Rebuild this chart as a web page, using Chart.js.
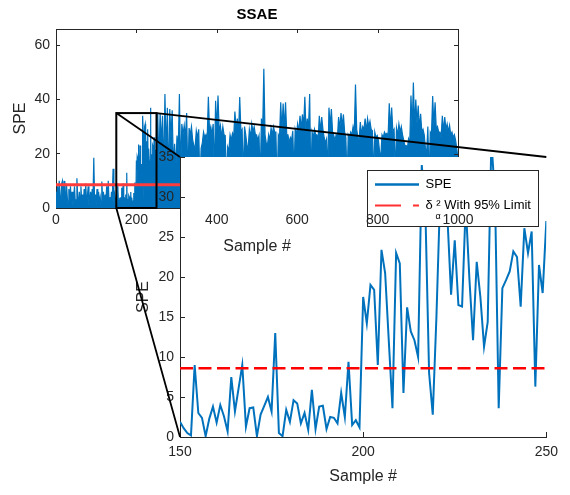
<!DOCTYPE html>
<html lang="en">
<head>
<meta charset="UTF-8">
<title>SSAE</title>
<script src="https://cdn.jsdelivr.net/npm/chart.js"></script>
<style>
  body { margin: 0; background: #fff; }
  #wrap { position: relative; width: 570px; height: 495px; }
  #wrap canvas { position: absolute; left: 0; top: 0; }
</style>
</head>
<body>
<div id="wrap">
  <canvas id="mainChart" width="570" height="495"></canvas>
  <canvas id="zoomChart" width="570" height="495"></canvas>
  <canvas id="overlay" width="570" height="495"></canvas>
</div>
<script>
// values
// samples 0, 2, ..., 148
const earlySPE = [6, 3, 8, 2, 10, 4, 1, 9, 10, 3, 10, 5, 2, 9, 4, 1, 7, 3, 8, 2,
  6, 1, 4, 8, 2, 3, 11, 4, 1, 6, 3, 8, 2, 5, 1, 7, 3, 9, 2, 4,
  8, 1, 3, 6, 2, 7, 3, 18.5, 2, 5, 1, 7, 3, 6, 2, 4, 1, 9.8, 3, 6,
  1, 5, 2, 8, 3, 10, 2, 4, 1, 6, 3, 14.5, 2, 5, 3];
// samples 150 ... 250 (the zoomed part)
const zoomSPE = [1.9, 1.1, 0.5, 0.2, 9.0, 3.0, 2.4, 0.1, 2.3, 3.8,
  1.8, 4.0, 2.6, 0.7, 7.5, 3.2, 6.1, 9.0, 1.3, 3.6,
  3.7, 0.1, 2.8, 3.9, 5.0, 3.2, 13.0, 0.5, 0.1, 3.4,
  1.9, 4.6, 4.2, 1.7, 3.0, 0.9, 5.9, 1.0, 3.8, 3.9,
  1.0, 2.5, 2.4, 1.7, 5.5, 2.5, 9.4, 1.5, 2.1, 1.2,
  17.5, 14.2, 19.0, 18.4, 9.0, 23.4, 20.5, 12.0, 3.6, 23.0,
  21.7, 5.5, 16.2, 13.2, 12.1, 10.0, 34.0, 28.0, 8.0, 2.8,
  15.0, 30.0, 31.0, 27.5, 17.8, 24.6, 16.5, 16.3, 29.0, 19.8,
  12.1, 21.9, 17.5, 11.3, 14.4, 37.0, 30.0, 3.6, 18.6, 19.6,
  20.7, 23.2, 22.5, 16.3, 26.1, 23.0, 25.7, 6.3, 21.5, 18.0, 27.0];
// samples 253, 259, ..., 997
const lateUpper = [35, 35, 34, 42, 37, 36.5, 36, 23.7, 26.7, 42,
  31, 30.5, 35, 29.5, 30, 23, 28.5, 29, 22, 28,
  27, 41, 30, 31, 39.5, 41.5, 30.4, 30, 26.7, 22.5,
  27, 27.5, 35.6, 33, 40.9, 29, 30, 23, 29, 31,
  30, 27, 26.7, 33, 51.3, 24, 27, 29.5, 30, 28,
  27, 39, 38.5, 39, 27, 26, 28.5, 29, 31, 34,
  34.5, 41, 33, 42, 28, 29, 27, 34, 33.5, 26,
  25.5, 37, 36.5, 26.7, 27, 33.5, 35, 34.5, 26, 27,
  28, 30, 45.5, 26, 31.7, 30, 33, 33, 32, 28.5,
  28, 26.7, 20.6, 27, 28, 27.5, 38.6, 37, 29, 29.5,
  31, 30, 25, 23, 25.5, 41.5, 46.3, 40, 37.8, 34.7,
  29, 22, 30, 28, 41.3, 39, 30, 28, 34, 33.5,
  31, 30.5, 28, 27, 21.8];
// samples 256, 262, ..., 1000
const lateLower = [16, 24, 12, 20, 9, 26, 15, 14, 21, 13,
  27, 26, 10, 27, 25, 22, 26, 8, 24, 26,
  25, 28, 27, 12, 29, 28, 26, 27, 9, 21,
  25, 26, 29, 27, 28, 11, 27, 22, 26, 28,
  27, 25, 10, 28, 27, 23, 25, 27, 28, 7,
  26, 28, 29, 27, 24, 25, 12, 27, 28, 29,
  30, 28, 29, 9, 26, 27, 25, 28, 29, 24,
  13, 30, 28, 25, 26, 29, 30, 28, 10, 26,
  27, 28, 29, 25, 27, 29, 28, 30, 29, 11,
  26, 25, 19, 26, 27, 26, 29, 28, 12, 27,
  28, 27, 23, 22, 24, 29, 30, 31, 29, 28,
  27, 20, 10, 27, 30, 29, 28, 26, 28, 29,
  28, 27, 26, 25, 18];
const speLimit = 8.6;

const zoomX = [150, 250];
const zoomY = [0, 35];
const mainXTicks = [0, 200, 400, 600, 800, 1000];
const mainYTicks = [0, 20, 40, 60];
const zoomXTicks = [150, 200, 250];
const zoomYTicks = [0, 5, 10, 15, 20, 25, 30, 35];

const BLUE = '#0072bd';
const AXIS = '#262626';
const HIDE = 'rgba(0,0,0,0)';
const LEGEND_BOX = { left: 367, top: 170, width: 171, height: 56 };

Chart.defaults.font.family = "'Liberation Sans', Arial, Helvetica, sans-serif";

// build point lists
const mainPoints = [];
earlySPE.forEach((v, i) => mainPoints.push({ x: 2 * i, y: v }));
zoomSPE.forEach((v, i) => mainPoints.push({ x: zoomX[0] + i, y: v }));
lateUpper.forEach((v, i) => {
  mainPoints.push({ x: 253 + 6 * i, y: v });
  mainPoints.push({ x: 256 + 6 * i, y: lateLower[i] });
});
const zoomPoints = zoomSPE.map((v, i) => ({ x: zoomX[0] + i, y: v }));

const fixTicks = arr => s => { s.ticks = arr.map(v => ({ value: v })); };

function mainOptions(top) {
  return {
    responsive: false, animation: false, events: [],
    layout: { padding: { left: 0, right: 112, top: 0, bottom: 237 } },
    plugins: {
      title: { display: true, text: 'SSAE', fullSize: false, color: top ? HIDE : '#000',
               font: { size: 15, weight: 'bold' }, padding: { top: 6, bottom: 5 } },
      legend: top ? {
        display: true, position: 'chartArea', align: 'start',
        labels: {
          usePointStyle: true, pointStyle: 'line', pointStyleWidth: 44,
          color: '#000', padding: 8, font: { size: 13 },
          generateLabels: chart => chart.data.datasets.map((ds, i) => ({
            text: ds.label, strokeStyle: ds.borderColor, fillStyle: ds.borderColor,
            lineWidth: ds.borderWidth, lineDash: ds.borderDash || [], pointStyle: 'line',
            rotation: 0, datasetIndex: i, hidden: false, fontColor: '#000'
          }))
        }
      } : { display: false },
      tooltip: { enabled: false }
    },
    scales: {
      x: {
        type: 'linear', min: 0, max: 1000,
        afterFit: s => { s.height = 50; },
        afterBuildTicks: fixTicks(mainXTicks),
        grid: { display: !top, drawOnChartArea: false, tickLength: -4, color: AXIS, z: top ? 1 : -1 },
        border: { display: !top, color: AXIS },
        ticks: { color: top ? AXIS : HIDE, padding: 8, font: { size: 14 }, maxRotation: 0,
                 autoSkip: false, callback: v => String(v), z: top ? 1 : 0 },
        title: { display: true, text: 'Sample #', color: top ? AXIS : HIDE, font: { size: 16 },
                 padding: { top: 0, bottom: 2 } }
      },
      y: {
        min: 0, max: 66,
        afterFit: s => { s.width = 56; },
        afterBuildTicks: fixTicks(mainYTicks),
        grid: { display: !top, drawOnChartArea: false, tickLength: -4, color: AXIS },
        border: { display: !top, color: AXIS },
        ticks: { color: top ? HIDE : AXIS, padding: 10, font: { size: 14 }, callback: v => String(v) },
        title: { display: true, text: 'SPE', color: top ? HIDE : AXIS, font: { size: 16 },
                 padding: { top: 11, bottom: 0 } }
      }
    }
  };
}

// top and right edges of the main axes box
const boxPlugin = {
  id: 'box',
  afterDraw(chart) {
    const { ctx, chartArea: a, scales: { x, y } } = chart;
    ctx.save();
    ctx.strokeStyle = AXIS;
    ctx.lineWidth = 1;
    ctx.beginPath();
    ctx.moveTo(a.left, a.top + 0.5);
    ctx.lineTo(a.right + 0.5, a.top + 0.5);
    ctx.lineTo(a.right + 0.5, a.bottom);
    mainXTicks.forEach(v => {
      const px = Math.round(x.getPixelForValue(v)) + 0.5;
      ctx.moveTo(px, a.top); ctx.lineTo(px, a.top + 4);
    });
    mainYTicks.forEach(v => {
      const py = Math.round(y.getPixelForValue(v)) + 0.5;
      ctx.moveTo(a.right, py); ctx.lineTo(a.right - 4, py);
    });
    ctx.stroke();
    ctx.restore();
  }
};

const mainChart = new Chart(document.getElementById('mainChart'), {
  type: 'line',
  data: {
    datasets: [{
      label: 'limit', data: [{ x: 0, y: speLimit }, { x: 1000, y: speLimit }],
      borderColor: '#ff3b3b', borderWidth: 3, pointRadius: 0, order: 0
    }, {
      label: 'SPE', data: mainPoints, borderColor: BLUE, backgroundColor: BLUE,
      borderWidth: 1.2, fill: 'origin', pointRadius: 0, tension: 0, order: 1
    }]
  },
  options: mainOptions(false),
  plugins: [boxPlugin]
});

// inset (zoomed) axes
const whitePlugin = {
  id: 'white',
  beforeDraw(chart) {
    const { ctx, chartArea: a } = chart;
    ctx.save();
    ctx.fillStyle = '#fff';
    ctx.fillRect(a.left, a.top, a.right - a.left, a.bottom - a.top);
    ctx.restore();
  }
};

const zoomChart = new Chart(document.getElementById('zoomChart'), {
  type: 'line',
  data: {
    datasets: [{
      label: 'limit', data: [{ x: zoomX[0], y: speLimit }, { x: zoomX[1], y: speLimit }],
      borderColor: '#ff0000', borderWidth: 2.5, borderDash: [13, 5.5], pointRadius: 0, order: 0
    }, {
      label: 'SPE', data: zoomPoints, borderColor: BLUE, borderWidth: 2,
      pointRadius: 0, tension: 0, order: 1
    }]
  },
  options: {
    responsive: false, animation: false, events: [],
    layout: { padding: { left: 130, right: 18, top: 157, bottom: 0 } },
    plugins: { legend: { display: false }, tooltip: { enabled: false } },
    scales: {
      x: {
        type: 'linear', min: zoomX[0], max: zoomX[1],
        afterFit: s => { s.height = 58; },
        afterBuildTicks: fixTicks(zoomXTicks),
        grid: { drawOnChartArea: false, tickLength: -5, color: AXIS },
        border: { color: AXIS },
        ticks: { color: AXIS, padding: 12, font: { size: 14 }, maxRotation: 0, autoSkip: false },
        title: { display: true, text: 'Sample #', color: AXIS, font: { size: 16 }, padding: { top: 0, bottom: 9 } }
      },
      y: {
        min: zoomY[0], max: zoomY[1],
        afterFit: s => { s.width = 50; },
        afterBuildTicks: fixTicks(zoomYTicks),
        grid: { drawOnChartArea: false, tickLength: -5, color: AXIS },
        border: { color: AXIS },
        ticks: { color: AXIS, padding: 11, font: { size: 14 } },
        title: { display: true, text: 'SPE', color: AXIS, font: { size: 16 }, padding: { top: 4, bottom: 0 } }
      }
    }
  },
  plugins: [whitePlugin]
});

// overlay: main x labels on top, legend, zoom box and connector lines
const overlayPlugin = {
  id: 'overlay',
  afterLayout(chart) {
    const lg = chart.legend;
    lg.left = LEGEND_BOX.left;
    lg.top = LEGEND_BOX.top;
    lg.width = LEGEND_BOX.width;
    lg.height = LEGEND_BOX.height;
    lg.right = lg.left + lg.width;
    lg.bottom = lg.top + lg.height;
  },
  beforeDraw(chart) {
    const ctx = chart.ctx, lg = chart.legend;
    ctx.save();
    ctx.fillStyle = '#fff';
    ctx.fillRect(lg.left, lg.top, lg.width, lg.height);
    ctx.strokeStyle = AXIS;
    ctx.lineWidth = 1;
    ctx.strokeRect(lg.left + 0.5, lg.top + 0.5, lg.width, lg.height);
    ctx.restore();
  },
  beforeDatasetsDraw(chart) {
    const ctx = chart.ctx, lg = chart.legend;
    ctx.save();
    ctx.fillStyle = '#000';
    ctx.font = "9px 'Liberation Sans', Arial, sans-serif";
    ctx.textAlign = 'center';
    ctx.textBaseline = 'middle';
    ctx.fillText('α', lg.left + 71, lg.top + 47);
    ctx.restore();
  },
  afterDraw(chart) {
    const ctx = chart.ctx;
    const mx = chart.scales.x, my = chart.scales.y;
    const zx = zoomChart.scales.x, zy = zoomChart.scales.y;
    const l = mx.getPixelForValue(zoomX[0]), r = mx.getPixelForValue(zoomX[1]);
    const t = my.getPixelForValue(zoomY[1]), b = my.getPixelForValue(zoomY[0]);
    ctx.save();
    ctx.strokeStyle = '#000';
    ctx.lineWidth = 2;
    ctx.strokeRect(l, t, r - l, b - t);
    ctx.lineWidth = 1.8;
    ctx.beginPath();
    ctx.moveTo(l, t); ctx.lineTo(zx.getPixelForValue(zoomX[0]), zy.getPixelForValue(zoomY[1]));
    ctx.moveTo(r, t); ctx.lineTo(zx.getPixelForValue(zoomX[1]), zy.getPixelForValue(zoomY[1]));
    ctx.moveTo(l, b); ctx.lineTo(zx.getPixelForValue(zoomX[0]), zy.getPixelForValue(zoomY[0]));
    ctx.stroke();
    ctx.restore();
  }
};

const overlayChart = new Chart(document.getElementById('overlay'), {
  type: 'line',
  data: {
    datasets: [{
      label: 'SPE', data: [], borderColor: BLUE, borderWidth: 2.5
    }, {
      label: 'δ ² With 95% Limit', data: [], borderColor: '#ff3030', borderWidth: 2,
      borderDash: [26, 12, 6]
    }]
  },
  options: mainOptions(true),
  plugins: [overlayPlugin]
});
</script>
</body>
</html>
